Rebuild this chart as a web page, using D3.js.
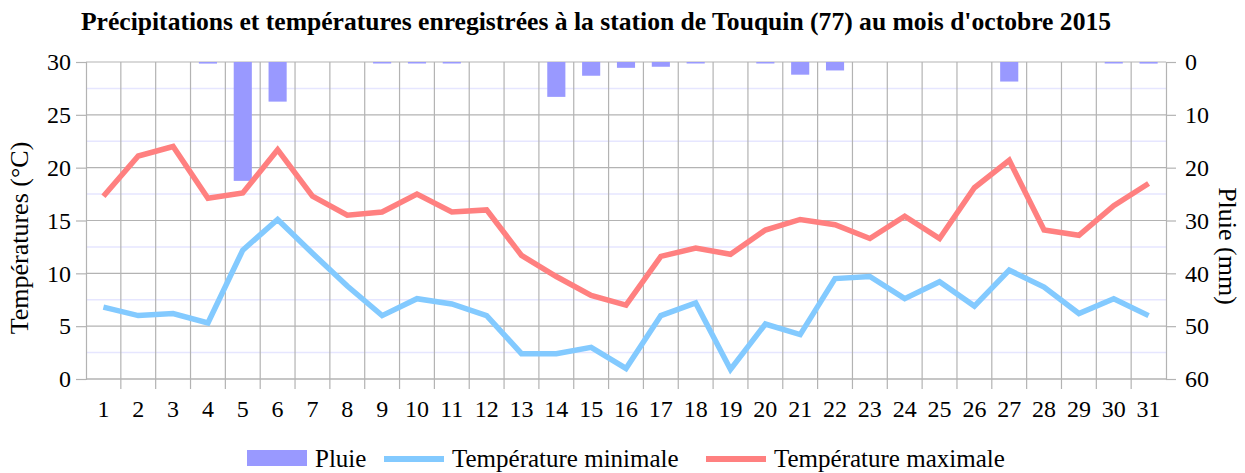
<!DOCTYPE html>
<html>
<head>
    <meta charset="utf-8">
    <title>Touquin octobre 2015</title>
    <style>
        body { margin: 0; background: #fff; }
        svg text { font-family: "Liberation Serif", "Times New Roman", serif; }
    </style>
    <script src="https://d3js.org/d3.v7.min.js"></script>
</head>
<body>
<svg id="chart" width="1245" height="473"></svg>
<script>
    // données
    const days = d3.range(1, 32).map(String);
    const pluie = [0, 0, 0, 0.3, 22.5, 7.5, 0, 0, 0.1, 0.1, 0.1, 0, 0, 6.6, 2.6, 1.1,
        0.9, 0.2, 0, 0.2, 2.4, 1.6, 0, 0, 0, 0, 3.7, 0, 0, 0.1, 0.3];
    const tMin = [6.8, 6.0, 6.2, 5.3, 12.2, 15.1, 11.9, 8.8, 6.0, 7.6, 7.1, 6.0, 2.4, 2.4, 3.0, 1.0,
        6.0, 7.2, 0.9, 5.2, 4.2, 9.5, 9.7, 7.6, 9.2, 6.9, 10.3, 8.7, 6.2, 7.6, 6.0];
    const tMax = [17.3, 21.1, 22.0, 17.1, 17.6, 21.7, 17.3, 15.5, 15.8, 17.5, 15.8, 16.0, 11.7, 9.7, 7.9, 7.0,
        11.6, 12.4, 11.8, 14.1, 15.1, 14.6, 13.3, 15.4, 13.3, 18.1, 20.7, 14.1, 13.6, 16.4, 18.5];
    const tempTicks = [0, 5, 10, 15, 20, 25, 30];
    const pluieTicks = [0, 10, 20, 30, 40, 50, 60];

    const colPluie = "#9999ff", colMin = "#83caff", colMax = "#ff8080";
    const serif = "Liberation Serif, Times New Roman, serif";

    const svg = d3.select("#chart");
    const pLeft = 86, pRight = 1166, pTop = 62, pBottom = 379;

    const x = d3.scaleBand().domain(days).range([pLeft, pRight]);
    const yT = d3.scaleLinear().domain([0, 30]).range([pBottom, pTop]);
    const yP = d3.scaleLinear().domain([0, 60]).range([pTop, pBottom]);

    // titre
    svg.append("text")
        .attr("x", 596).attr("y", 30)
        .attr("text-anchor", "middle")
        .attr("font-family", serif)
        .attr("font-weight", "bold")
        .attr("font-size", 25.6)
        .text("Précipitations et températures enregistrées à la station de Touquin (77) au mois d'octobre 2015");

    // grille secondaire
    svg.append("g").selectAll("line")
        .data(d3.range(2.5, 30, 5))
        .join("line")
        .attr("x1", pLeft).attr("x2", pRight)
        .attr("y1", d => yT(d)).attr("y2", d => yT(d))
        .attr("stroke", "#e6e6ff").attr("stroke-width", 1.5);

    // grille principale
    svg.append("g").selectAll("line")
        .data(tempTicks)
        .join("line")
        .attr("x1", pLeft).attr("x2", pRight)
        .attr("y1", d => yT(d)).attr("y2", d => yT(d))
        .attr("stroke", "#b3b3b3").attr("stroke-width", 1.2);

    svg.append("g").selectAll("line")
        .data(days.slice(1))
        .join("line")
        .attr("x1", d => x(d)).attr("x2", d => x(d))
        .attr("y1", pTop).attr("y2", pBottom + 10)
        .attr("stroke", "#b3b3b3").attr("stroke-width", 1.2);

    // barres de pluie
    const bw = x.bandwidth() * 0.52;
    svg.append("g").selectAll("rect")
        .data(pluie.map((v, i) => ({day: days[i], v: v})).filter(d => d.v > 0))
        .join("rect")
        .attr("x", d => x(d.day) + (x.bandwidth() - bw) / 2)
        .attr("y", yP(0))
        .attr("width", bw)
        .attr("height", d => Math.max(1.5, yP(d.v) - yP(0)))
        .attr("fill", colPluie);

    // courbes
    const line = d3.line()
        .x((d, i) => x(days[i]) + x.bandwidth() / 2)
        .y(d => yT(d));

    svg.append("path").datum(tMin)
        .attr("d", line)
        .attr("fill", "none")
        .attr("stroke", colMin)
        .attr("stroke-width", 5.5);

    svg.append("path").datum(tMax)
        .attr("d", line)
        .attr("fill", "none")
        .attr("stroke", colMax)
        .attr("stroke-width", 5.5);

    // axes
    const axL = svg.append("g")
        .attr("transform", `translate(${pLeft},0)`)
        .call(d3.axisLeft(yT).tickValues(tempTicks).tickSize(10).tickPadding(5));
    const axR = svg.append("g")
        .attr("transform", `translate(${pRight},0)`)
        .call(d3.axisRight(yP).tickValues(pluieTicks).tickSize(10).tickPadding(9));
    const axB = svg.append("g")
        .attr("transform", `translate(0,${pBottom})`)
        .call(d3.axisBottom(x).tickSize(0).tickPadding(21));

    [axL, axR, axB].forEach(a => {
        a.attr("font-family", serif);
        a.selectAll(".domain").attr("stroke", "#b3b3b3").attr("stroke-width", 1.2);
        a.selectAll(".tick line").attr("stroke", "#b3b3b3").attr("stroke-width", 1.2);
        a.selectAll("text")
            .attr("fill", "#000")
            .attr("font-family", serif)
            .attr("font-size", 24);
    });
    axB.select(".domain").remove();
    axB.append("line")
        .attr("x1", pLeft).attr("x2", pRight)
        .attr("stroke", "#b3b3b3").attr("stroke-width", 1.2);

    // titres des axes
    svg.append("text")
        .attr("transform", "translate(28,238) rotate(-90)")
        .attr("text-anchor", "middle")
        .attr("font-family", serif)
        .attr("font-size", 26)
        .text("Températures (°C)");

    svg.append("text")
        .attr("transform", "translate(1219,246) rotate(90)")
        .attr("text-anchor", "middle")
        .attr("font-family", serif)
        .attr("font-size", 26)
        .text("Pluie (mm)");

    // légende
    const legend = svg.append("g")
        .attr("font-family", serif)
        .attr("font-size", 25);
    const items = [
        {label: "Pluie", color: colPluie, type: "rect", x: 247},
        {label: "Température minimale", color: colMin, type: "line", x: 384},
        {label: "Température maximale", color: colMax, type: "line", x: 706}
    ];
    items.forEach(it => {
        if (it.type === "rect") {
            legend.append("rect")
                .attr("x", it.x).attr("y", 450)
                .attr("width", 60).attr("height", 16)
                .attr("fill", it.color);
        } else {
            legend.append("line")
                .attr("x1", it.x).attr("x2", it.x + 60)
                .attr("y1", 459).attr("y2", 459)
                .attr("stroke", it.color).attr("stroke-width", 6);
        }
        legend.append("text")
            .attr("x", it.x + 68).attr("y", 467)
            .text(it.label);
    });
</script>
</body>
</html>
